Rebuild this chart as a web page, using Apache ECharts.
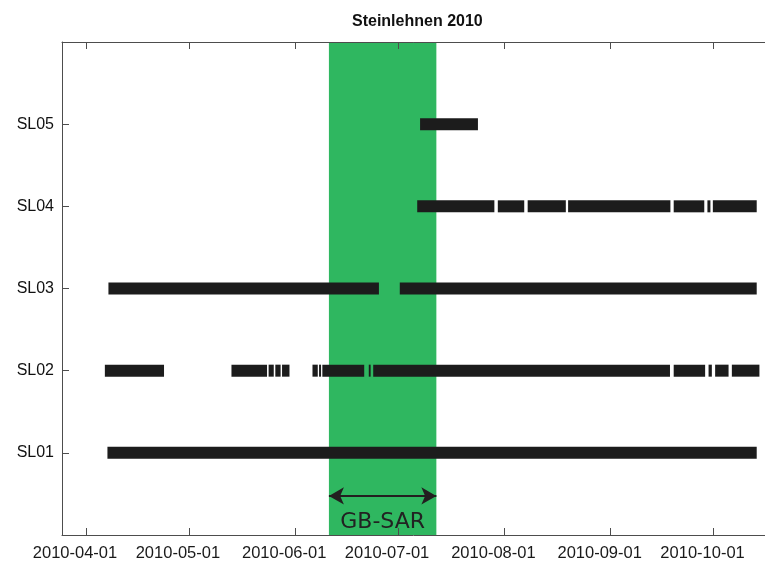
<!DOCTYPE html>
<html>
<head>
<meta charset="utf-8">
<title>Steinlehnen 2010</title>
<script src="https://cdn.jsdelivr.net/npm/echarts@6/dist/echarts.min.js"></script>
<style>
  html, body { margin: 0; padding: 0; background: #fff; }
  #chart { width: 765px; height: 562px; }
</style>
</head>
<body>
<div id="chart"></div>
<script>
// Station names on the y axis (bottom to top)
const stations = ['SL01', 'SL02', 'SL03', 'SL04', 'SL05'];

// Recording periods per station: [start, end]
const sl01 = [
  ['2010-04-07 06:00', '2010-10-13 14:00']
];
const sl02 = [
  ['2010-04-06 12:00', '2010-04-23 18:00'],
  ['2010-05-13 10:00', '2010-05-23 19:00'],
  ['2010-05-24 06:00', '2010-05-25 18:00'],
  ['2010-05-26 05:00', '2010-05-27 18:00'],
  ['2010-05-28 04:00', '2010-05-30 08:00'],
  ['2010-06-06 01:00', '2010-06-07 14:00'],
  ['2010-06-07 23:00', '2010-06-08 13:00'],
  ['2010-06-08 22:00', '2010-06-21 03:00'],
  ['2010-06-22 11:00', '2010-06-23 00:00'],
  ['2010-06-23 18:00', '2010-09-18 07:00'],
  ['2010-09-19 09:00', '2010-09-28 13:00'],
  ['2010-09-29 13:00', '2010-09-30 12:00'],
  ['2010-10-01 11:00', '2010-10-05 09:00'],
  ['2010-10-06 08:00', '2010-10-14 09:00']
];
const sl03 = [
  ['2010-04-07 13:00', '2010-06-25 10:00'],
  ['2010-07-01 12:00', '2010-10-13 14:00']
];
const sl04 = [
  ['2010-07-06 14:00', '2010-07-29 02:00'],
  ['2010-07-30 02:00', '2010-08-06 19:00'],
  ['2010-08-07 19:00', '2010-08-18 22:00'],
  ['2010-08-19 14:00', '2010-09-18 10:00'],
  ['2010-09-19 09:00', '2010-09-28 07:00'],
  ['2010-09-29 05:00', '2010-09-30 02:00'],
  ['2010-09-30 19:00', '2010-10-13 14:00']
];
const sl05 = [
  ['2010-07-07 10:00', '2010-07-24 07:00']
];

// GB-SAR campaign period (shaded band)
const campaign = ['2010-06-10 20:00', '2010-07-12 04:00'];
const campaignLabel = 'GB-SAR';

// Time axis extent
const axisRange = ['2010-03-25', '2010-10-16'];

const ts = s => echarts.number.parseDate(s).getTime();

const periodsByStation = [sl01, sl02, sl03, sl04, sl05];
const barData = [];
periodsByStation.forEach((periods, i) => {
  periods.forEach(p => barData.push([i + 1, ts(p[0]), ts(p[1])]));
});

const font = '"Liberation Sans", Arial, Helvetica, sans-serif';
const axisColor = '#4d4d4d';

function renderPeriod(params, api) {
  const y = api.value(0);
  const p0 = api.coord([api.value(1), y]);
  const p1 = api.coord([api.value(2), y]);
  const h = 12;
  const rect = echarts.graphic.clipRectByRect(
    { x: p0[0], y: p0[1] - h / 2, width: p1[0] - p0[0], height: h },
    { x: params.coordSys.x, y: params.coordSys.y, width: params.coordSys.width, height: params.coordSys.height }
  );
  return rect && { type: 'rect', shape: rect, style: { fill: '#1c1c1c' } };
}

// Monthly time axis; the top copy closes the box
function timeAxis(position, withLabels) {
  return {
    type: 'time',
    min: ts(axisRange[0]),
    max: ts(axisRange[1]),
    position: position,
    splitNumber: 7,
    z: 10,
    splitLine: { show: false },
    minorTick: { show: false },
    axisLine: { show: true, onZero: false, lineStyle: { color: axisColor, width: 1 } },
    axisTick: { show: true, inside: true, length: 7, lineStyle: { color: axisColor } },
    axisLabel: withLabels ? {
      show: true,
      showMinLabel: false,
      showMaxLabel: false,
      hideOverlap: false,
      formatter: '{yyyy}-{MM}-{dd}',
      fontFamily: font,
      fontSize: 16.5,
      fontWeight: 'normal',
      color: '#1a1a1a',
      margin: 10,
      padding: [0, 22, 0, 0],
      rich: {}
    } : { show: false }
  };
}

const chart = echarts.init(document.getElementById('chart'), null, { renderer: 'canvas' });

chart.setOption({
  animation: false,
  backgroundColor: '#ffffff',
  textStyle: { fontFamily: font },
  title: {
    text: 'Steinlehnen 2010',
    left: 347,
    top: 9,
    textStyle: { fontFamily: font, fontSize: 16, fontWeight: 'bold', color: '#111' }
  },
  grid: { left: 62, right: -3, top: 42, bottom: 25 },
  xAxis: [timeAxis('bottom', true), timeAxis('top', false)],
  yAxis: {
    type: 'value',
    min: 0,
    max: 6,
    interval: 1,
    z: 10,
    splitLine: { show: false },
    axisLine: { show: true, onZero: false, lineStyle: { color: axisColor, width: 1 } },
    axisTick: { show: true, inside: true, length: 7, lineStyle: { color: axisColor } },
    axisLabel: {
      formatter: v => stations[v - 1] || '',
      fontFamily: font,
      fontSize: 16,
      color: '#111',
      margin: 8
    }
  },
  series: [
    {
      name: 'campaign',
      type: 'line',
      z: 1,
      silent: true,
      symbol: 'none',
      data: [[ts(campaign[0]), 0.476]],
      lineStyle: { opacity: 0 },
      markArea: {
        silent: true,
        itemStyle: { color: '#2fb760', opacity: 1 },
        data: [[{ xAxis: ts(campaign[0]) }, { xAxis: ts(campaign[1]) }]]
      },
      markLine: {
        silent: true,
        symbol: ['arrow', 'arrow'],
        symbolSize: [13, 15],
        lineStyle: { color: '#231f20', width: 2, type: 'solid' },
        label: {
          show: true,
          formatter: campaignLabel,
          position: 'insideMiddleBottom',
          distance: 15,
          fontFamily: '"DejaVu Sans", sans-serif',
          fontSize: 22,
          color: '#222'
        },
        data: [[
          { coord: [ts(campaign[0]), 0.476] },
          { coord: [ts(campaign[1]), 0.476] }
        ]]
      }
    },
    {
      name: 'records',
      type: 'custom',
      z: 3,
      renderItem: renderPeriod,
      encode: { x: [1, 2], y: 0 },
      data: barData
    }
  ]
});
</script>
</body>
</html>
